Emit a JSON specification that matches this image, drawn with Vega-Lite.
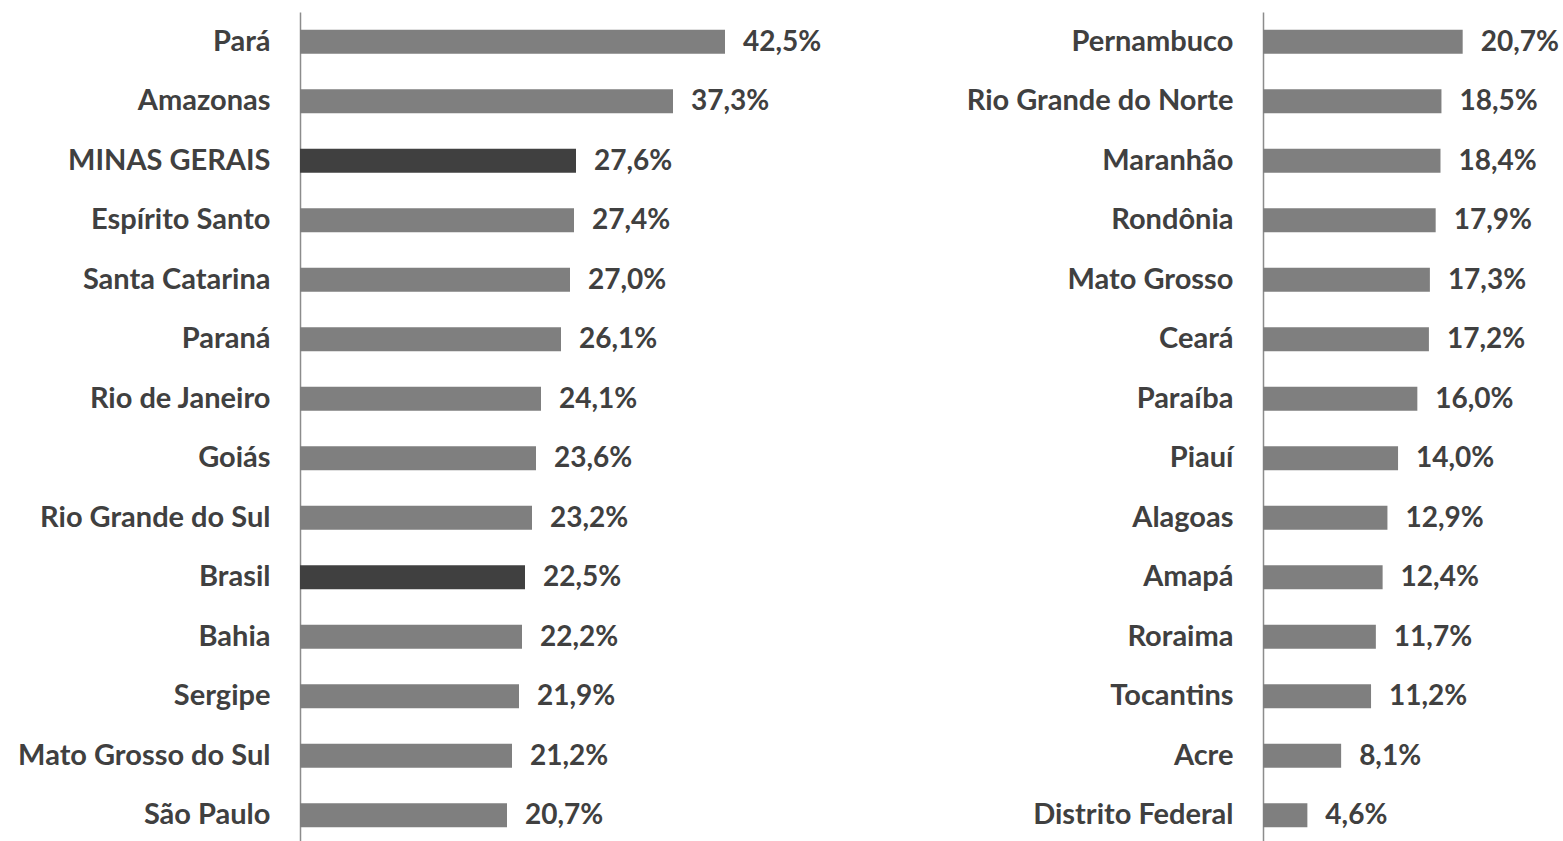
{
  "$schema": "https://vega.github.io/schema/vega-lite/v6.json",
  "padding": {"left": 17, "top": 12, "right": 0, "bottom": 0},
  "background": "white",
  "spacing": 0,
  "bounds": "flush",
  "config": {
    "view": {"stroke": null},
    "font": "Lato",
    "axisY": {
      "domainColor": "#8c8c8c",
      "domainWidth": 1.5,
      "ticks": false,
      "grid": false,
      "labelFont": "Lato",
      "labelFontSize": 29,
      "labelFontWeight": "bold",
      "labelColor": "#404040",
      "labelPadding": 30,
      "labelLimit": 400,
      "title": null
    }
  },
  "hconcat": [
    {
      "width": 963,
      "height": 833,
      "data": {"values": [
        {"uf": "Pará", "valor": 42.5, "rotulo": "42,5%", "grupo": "estado"},
        {"uf": "Amazonas", "valor": 37.3, "rotulo": "37,3%", "grupo": "estado"},
        {"uf": "MINAS GERAIS", "valor": 27.6, "rotulo": "27,6%", "grupo": "destaque"},
        {"uf": "Espírito Santo", "valor": 27.4, "rotulo": "27,4%", "grupo": "estado"},
        {"uf": "Santa Catarina", "valor": 27.0, "rotulo": "27,0%", "grupo": "estado"},
        {"uf": "Paraná", "valor": 26.1, "rotulo": "26,1%", "grupo": "estado"},
        {"uf": "Rio de Janeiro", "valor": 24.1, "rotulo": "24,1%", "grupo": "estado"},
        {"uf": "Goiás", "valor": 23.6, "rotulo": "23,6%", "grupo": "estado"},
        {"uf": "Rio Grande do Sul", "valor": 23.2, "rotulo": "23,2%", "grupo": "estado"},
        {"uf": "Brasil", "valor": 22.5, "rotulo": "22,5%", "grupo": "destaque"},
        {"uf": "Bahia", "valor": 22.2, "rotulo": "22,2%", "grupo": "estado"},
        {"uf": "Sergipe", "valor": 21.9, "rotulo": "21,9%", "grupo": "estado"},
        {"uf": "Mato Grosso do Sul", "valor": 21.2, "rotulo": "21,2%", "grupo": "estado"},
        {"uf": "São Paulo", "valor": 20.7, "rotulo": "20,7%", "grupo": "estado"}
      ]},
      "encoding": {
        "y": {"field": "uf", "type": "nominal", "sort": null,
              "scale": {"paddingInner": 0.6, "paddingOuter": 0.3}},
        "x": {"field": "valor", "type": "quantitative", "axis": null,
              "scale": {"domain": [0, 96.3], "nice": false, "zero": true}}
      },
      "layer": [
        {"mark": {"type": "bar"},
         "encoding": {"color": {"field": "grupo", "type": "nominal",
           "scale": {"domain": ["estado", "destaque"], "range": ["#7f7f7f", "#404040"]},
           "legend": null}}},
        {"mark": {"type": "text", "align": "left", "baseline": "middle", "dx": 18, "dy": 1,
                  "font": "Lato", "fontSize": 28, "fontWeight": "bold", "color": "#404040"},
         "encoding": {"text": {"field": "rotulo"}}}
      ]
    },
    {
      "width": 300,
      "height": 833,
      "data": {"values": [
        {"uf": "Pernambuco", "valor": 20.7, "rotulo": "20,7%", "grupo": "estado"},
        {"uf": "Rio Grande do Norte", "valor": 18.5, "rotulo": "18,5%", "grupo": "estado"},
        {"uf": "Maranhão", "valor": 18.4, "rotulo": "18,4%", "grupo": "estado"},
        {"uf": "Rondônia", "valor": 17.9, "rotulo": "17,9%", "grupo": "estado"},
        {"uf": "Mato Grosso", "valor": 17.3, "rotulo": "17,3%", "grupo": "estado"},
        {"uf": "Ceará", "valor": 17.2, "rotulo": "17,2%", "grupo": "estado"},
        {"uf": "Paraíba", "valor": 16.0, "rotulo": "16,0%", "grupo": "estado"},
        {"uf": "Piauí", "valor": 14.0, "rotulo": "14,0%", "grupo": "estado"},
        {"uf": "Alagoas", "valor": 12.9, "rotulo": "12,9%", "grupo": "estado"},
        {"uf": "Amapá", "valor": 12.4, "rotulo": "12,4%", "grupo": "estado"},
        {"uf": "Roraima", "valor": 11.7, "rotulo": "11,7%", "grupo": "estado"},
        {"uf": "Tocantins", "valor": 11.2, "rotulo": "11,2%", "grupo": "estado"},
        {"uf": "Acre", "valor": 8.1, "rotulo": "8,1%", "grupo": "estado"},
        {"uf": "Distrito Federal", "valor": 4.6, "rotulo": "4,6%", "grupo": "estado"}
      ]},
      "encoding": {
        "y": {"field": "uf", "type": "nominal", "sort": null,
              "scale": {"paddingInner": 0.6, "paddingOuter": 0.3}},
        "x": {"field": "valor", "type": "quantitative", "axis": null,
              "scale": {"domain": [0, 31.1], "nice": false, "zero": true}}
      },
      "layer": [
        {"mark": {"type": "bar", "color": "#7f7f7f"}},
        {"mark": {"type": "text", "align": "left", "baseline": "middle", "dx": 18, "dy": 1,
                  "font": "Lato", "fontSize": 28, "fontWeight": "bold", "color": "#404040"},
         "encoding": {"text": {"field": "rotulo"}}}
      ]
    }
  ]
}
